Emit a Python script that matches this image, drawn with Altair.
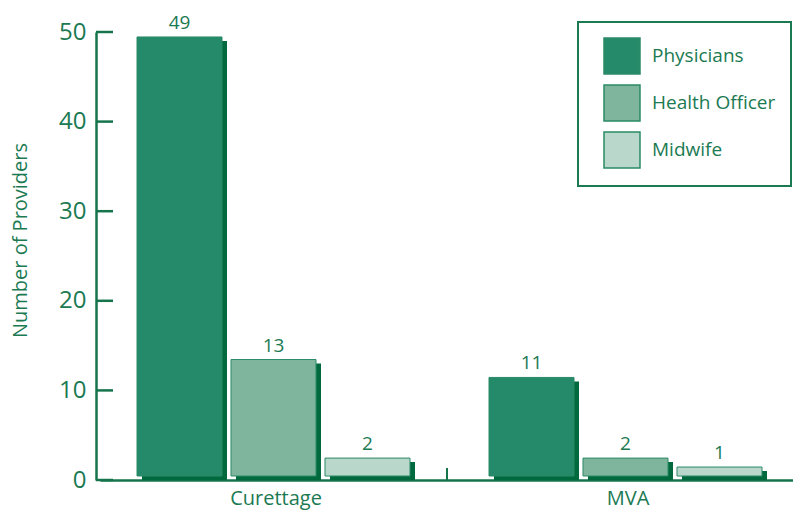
import altair as alt
import pandas as pd

categories = ["Curettage", "MVA"]
providers = ["Physicians", "Health Officer", "Midwife"]
curettage_values = [49, 13, 2]
mva_values = [11, 2, 1]
y_ticks = [0, 10, 20, 30, 40, 50]
colors = ["#258a69", "#80b59d", "#b9d8cb"]

rows = []
for p, v in zip(providers, curettage_values):
    rows.append({"category": "Curettage", "provider": p, "value": v})
for p, v in zip(providers, mva_values):
    rows.append({"category": "MVA", "provider": p, "value": v})
df = pd.DataFrame(rows)
ticks_df = pd.DataFrame({"t": y_ticks})
sep_df = pd.DataFrame({"category": ["MVA"]})

TEXT = "#1b7a52"
DARK = "#006a3e"
AXIS = "#15744b"
FONT = "Open Sans"
W, H = 697, 448

x_scale = alt.Scale(domain=categories, range=[4, 708], paddingInner=0, paddingOuter=0)
y_scale = alt.Scale(domain=[0, 50], nice=False)

x_axis = alt.Axis(title=None, ticks=False, labelFontSize=20, labelFont=FONT,
                  labelColor=TEXT, labelPadding=8, domainColor=AXIS,
                  domainWidth=2.5, labelAngle=0, grid=False)
y_axis = alt.Axis(title="Number of Providers", values=y_ticks, ticks=False,
                  grid=False, labelFontSize=24, labelFont=FONT,
                  labelColor=TEXT, labelPadding=10, domainColor=AXIS,
                  domainWidth=2.5, titleFont=FONT, titleFontSize=20,
                  titleFontWeight="normal", titleColor=TEXT,
                  titleX=-76, titleY=208, titleBaseline="middle")


def xoff(shift):
    return alt.XOffset(
        "provider:N",
        sort=providers,
        scale=alt.Scale(type="band", domain=providers, range=[37 + shift, 310 + shift],
                        paddingInner=0.0957, paddingOuter=0),
    )


base = alt.Chart(df)

shadow = base.mark_bar(color=DARK).encode(
    x=alt.X("category:N", scale=x_scale, axis=x_axis),
    xOffset=xoff(5),
    y=alt.Y("value:Q", scale=y_scale, axis=y_axis),
)

main = base.mark_bar(stroke="#2a8a66", strokeWidth=1, yOffset=-4, y2Offset=-4).encode(
    x=alt.X("category:N", scale=x_scale, axis=x_axis),
    xOffset=xoff(0),
    y=alt.Y("value:Q", scale=y_scale, axis=y_axis),
    color=alt.Color("provider:N", sort=providers,
                    scale=alt.Scale(domain=providers, range=colors),
                    legend=alt.Legend(title=None, orient="none", legendX=482, legendY=-10,
                                      symbolType="square", symbolSize=1296,
                                      symbolStrokeColor="#2a8a66", symbolStrokeWidth=1.5,
                                      symbolOpacity=1,
                                      labelFontSize=19, labelFont=FONT, labelColor=TEXT,
                                      labelLimit=300, padding=15, rowPadding=5,
                                      labelOffset=11, symbolOffset=10,
                                      strokeColor=TEXT, fillColor="white")),
)

labels = base.mark_text(baseline="alphabetic", dy=-12, fontSize=19, font=FONT,
                        color=TEXT).encode(
    x=alt.X("category:N", scale=x_scale, axis=x_axis),
    xOffset=xoff(0),
    y=alt.Y("value:Q", scale=y_scale, axis=y_axis),
    text="value:Q",
)

yticks = alt.Chart(ticks_df).mark_rule(color=AXIS, strokeWidth=2.5).encode(
    y=alt.Y("t:Q", scale=y_scale, axis=y_axis),
    x=alt.value(0),
    x2=alt.value(17),
)

sep = alt.Chart(sep_df).mark_rule(color=AXIS, strokeWidth=2, xOffset=-5).encode(
    x=alt.X("category:N", scale=x_scale, bandPosition=0, axis=x_axis),
    y=alt.value(H - 12),
    y2=alt.value(H),
)

chart = (
    alt.layer(shadow, main, labels, yticks, sep)
    .resolve_scale(xOffset="independent")
    .properties(
        width=W, height=H,
        autosize=alt.AutoSizeParams(type="none"),
        padding={"left": 96, "top": 32, "right": 0, "bottom": 30},
        background="white",
    )
    .configure_view(stroke=None)
    .configure_legend(strokeWidth=2)
)

chart.save("out.html", embed_options={"renderer": "svg", "actions": False})
